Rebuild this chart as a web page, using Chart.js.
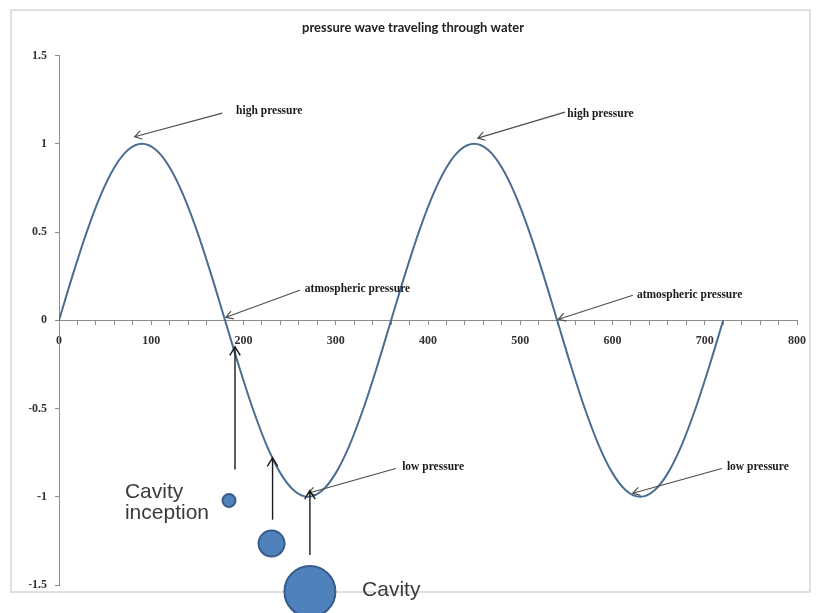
<!DOCTYPE html>
<html>
<head>
<meta charset="utf-8">
<script src="https://cdn.jsdelivr.net/npm/chart.js@4.4.1/dist/chart.umd.min.js"></script>
<style>
  html, body { margin: 0; padding: 0; background: #ffffff; }
  #wrap { width: 816px; height: 613px; position: relative; }
</style>
</head>
<body>
<div id="wrap"><canvas id="c" width="816" height="613"></canvas></div>
<script>
// ---- data ----
const chartTitle = 'pressure wave traveling through water';
const waveX = [0,15,30,45,60,75,90,105,120,135,150,165,180,195,210,225,240,255,270,285,300,315,330,345,360,
               375,390,405,420,435,450,465,480,495,510,525,540,555,570,585,600,615,630,645,660,675,690,705,720];
const waveY = [0,0.259,0.5,0.707,0.866,0.966,1,0.966,0.866,0.707,0.5,0.259,0,-0.259,-0.5,-0.707,-0.866,-0.966,-1,-0.966,-0.866,-0.707,-0.5,-0.259,0,
               0.259,0.5,0.707,0.866,0.966,1,0.966,0.866,0.707,0.5,0.259,0,-0.259,-0.5,-0.707,-0.866,-0.966,-1,-0.966,-0.866,-0.707,-0.5,-0.259,0];
const bubbleX = [184.3, 230.4, 272];
const bubbleY = [-1.021, -1.265, -1.537];
const bubbleR = [6.5, 13, 25.5];
const xMin = 0, xMax = 800, xMajor = 100, xMinor = 20;
const yMin = -1.5, yMax = 1.5, yStep = 0.5;

// annotation labels: text, text x, text y, arrow from (x,y) to (x,y)
const noteText  = ['high pressure','high pressure','atmospheric pressure','atmospheric pressure','low pressure','low pressure'];
const noteTextX = [192, 551, 266.5, 626.5, 372, 724];
const noteTextY = [1.185, 1.17, 0.176, 0.142, -0.834, -0.834];
const noteFromX = [177, 548.5, 261, 622, 365, 718.5];
const noteFromY = [1.174, 1.18, 0.17, 0.142, -0.84, -0.84];
const noteToX   = [82, 454, 181, 541.5, 270, 622];
const noteToY   = [1.04, 1.032, 0.017, 0.006, -0.98, -0.98];

// vertical arrows (x, from y, to y)
const vArrowX  = [190.8, 231.5, 272];
const vArrowY0 = [-0.845, -1.13, -1.33];
const vArrowY1 = [-0.15, -0.78, -0.965];

// cavity labels
const cavText = ['Cavity', 'inception', 'Cavity'];
const cavX = [71.5, 71.5, 328.5];
const cavY = [-0.975, -1.095, -1.53];

// ---- build ----
const wavePoints = waveX.map((x, i) => ({ x: x, y: waveY[i] }));
const bubblePoints = bubbleX.map((x, i) => ({ x: x, y: bubbleY[i], r: bubbleR[i] }));

function arrowHead(ctx, x0, y0, x1, y1, len) {
  const a = Math.atan2(y1 - y0, x1 - x0);
  const spread = 0.55;
  ctx.beginPath();
  ctx.moveTo(x1 - len * Math.cos(a - spread), y1 - len * Math.sin(a - spread));
  ctx.lineTo(x1, y1);
  ctx.lineTo(x1 - len * Math.cos(a + spread), y1 - len * Math.sin(a + spread));
  ctx.stroke();
}

const framePlugin = {
  id: 'frame',
  beforeDraw(chart) {
    const ctx = chart.ctx;
    ctx.save();
    ctx.strokeStyle = '#d6d6d6';
    ctx.lineWidth = 1.5;
    ctx.strokeRect(11, 10, 799, 582);
    ctx.restore();
  }
};

const notesPlugin = {
  id: 'notes',
  afterDatasetsDraw(chart) {
    const ctx = chart.ctx;
    const xs = chart.scales.x, ys = chart.scales.y;
    ctx.save();
    // labelled arrows
    ctx.strokeStyle = '#4d4d4d';
    ctx.lineWidth = 1.2;
    for (let i = 0; i < noteText.length; i++) {
      const x0 = xs.getPixelForValue(noteFromX[i]), y0 = ys.getPixelForValue(noteFromY[i]);
      const x1 = xs.getPixelForValue(noteToX[i]), y1 = ys.getPixelForValue(noteToY[i]);
      ctx.beginPath(); ctx.moveTo(x0, y0); ctx.lineTo(x1, y1); ctx.stroke();
      arrowHead(ctx, x0, y0, x1, y1, 8);
      ctx.fillStyle = '#1a1a1a';
      ctx.font = 'bold 11.5px "Liberation Serif", "DejaVu Serif", serif';
      ctx.textAlign = 'left';
      ctx.textBaseline = 'middle';
      ctx.fillText(noteText[i], xs.getPixelForValue(noteTextX[i]), ys.getPixelForValue(noteTextY[i]));
    }
    // vertical arrows
    ctx.strokeStyle = '#1a1a1a';
    ctx.lineWidth = 1.4;
    for (let i = 0; i < vArrowX.length; i++) {
      const x = xs.getPixelForValue(vArrowX[i]);
      const y0 = ys.getPixelForValue(vArrowY0[i]), y1 = ys.getPixelForValue(vArrowY1[i]);
      ctx.beginPath(); ctx.moveTo(x, y0); ctx.lineTo(x, y1); ctx.stroke();
      arrowHead(ctx, x, y0, x, y1, 10);
    }
    // cavity labels
    ctx.fillStyle = '#3a3a3a';
    ctx.font = '21px "Liberation Sans", Arial, sans-serif';
    ctx.textAlign = 'left';
    ctx.textBaseline = 'middle';
    for (let i = 0; i < cavText.length; i++) {
      ctx.fillText(cavText[i], xs.getPixelForValue(cavX[i]), ys.getPixelForValue(cavY[i]));
    }
    ctx.restore();
  }
};

new Chart(document.getElementById('c'), {
  type: 'scatter',
  data: {
    datasets: [
      {
        type: 'line',
        data: wavePoints,
        borderColor: '#4a6d92',
        borderWidth: 2,
        pointRadius: 0,
        fill: false,
        cubicInterpolationMode: 'monotone',
        showLine: true
      },
      {
        type: 'bubble',
        data: bubblePoints,
        backgroundColor: '#4f81bd',
        borderColor: '#385d8a',
        borderWidth: 2,
        clip: false
      }
    ]
  },
  options: {
    responsive: false,
    animation: false,
    events: [],
    layout: { autoPadding: false, padding: { left: 29, right: 19, top: 0, bottom: 28 } },
    plugins: {
      legend: { display: false },
      tooltip: { enabled: false },
      title: {
        display: true,
        text: chartTitle,
        color: '#222222',
        font: { family: 'Lato, "Open Sans", sans-serif', size: 13, weight: 'bold', lineHeight: 1.2 },
        padding: { top: 20, bottom: 20 }
      }
    },
    scales: {
      x: {
        type: 'linear',
        position: { y: 0 },
        min: xMin, max: xMax,
        afterFit(scale) { scale.height = 0; scale.paddingLeft = 0; scale.paddingRight = 0; },
        grid: { display: true, drawOnChartArea: false, drawTicks: true, tickLength: 4, color: '#8c8c8c', tickColor: '#8c8c8c' },
        border: { display: true, color: '#8c8c8c', width: 1 },
        ticks: {
          stepSize: xMinor,
          maxTicksLimit: 100,
          autoSkip: false,
          maxRotation: 0,
          padding: 9,
          color: '#333333',
          font: { family: '"Liberation Serif", "DejaVu Serif", serif', size: 12, weight: 'bold' },
          callback: (v) => (v % xMajor === 0 ? String(v) : '')
        }
      },
      y: {
        type: 'linear',
        position: 'left',
        min: yMin, max: yMax,
        afterFit(scale) { scale.width = 30; scale.paddingTop = 0; scale.paddingBottom = 0; },
        grid: { display: true, drawOnChartArea: false, drawTicks: true, tickLength: 4, color: '#8c8c8c', tickColor: '#8c8c8c' },
        border: { display: true, color: '#8c8c8c', width: 1 },
        ticks: {
          stepSize: yStep,
          padding: 8,
          color: '#333333',
          font: { family: '"Liberation Serif", "DejaVu Serif", serif', size: 12, weight: 'bold' },
          callback: (v) => String(v)
        }
      }
    }
  },
  plugins: [framePlugin, notesPlugin]
});
</script>
</body>
</html>
